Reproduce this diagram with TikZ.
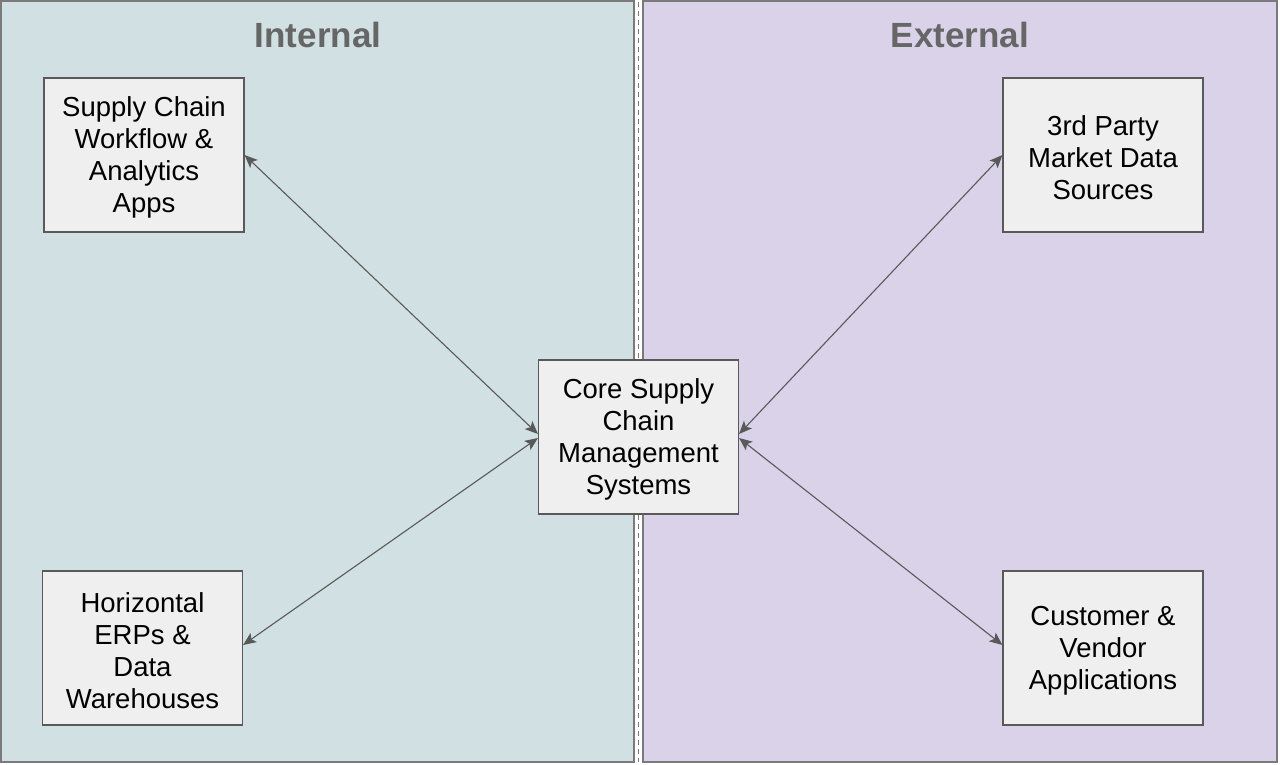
\documentclass[tikz,border=0pt]{standalone}
\usepackage{fontspec}
\setmainfont{Liberation Sans}
\usetikzlibrary{arrows.meta}
\definecolor{intfill}{HTML}{D0E0E3}
\definecolor{extfill}{HTML}{D9D2E9}
\definecolor{boxfill}{HTML}{EFEFEF}
\definecolor{edge}{HTML}{595959}
\definecolor{titlegray}{HTML}{666666}
\newcommand{\toppad}{\rule{0pt}{25pt}}
\tikzset{
  panel/.style={draw=edge!80, line width=1.3pt},
  sysbox/.style={draw=edge, fill=boxfill, line width=1.1pt, minimum width=200pt, minimum height=154pt, inner sep=0pt, align=center, font=\fontsize{27.5}{32}\selectfont},
  paneltitle/.style={font=\fontsize{35}{40}\selectfont\bfseries, text=titlegray},
  link/.style={draw=edge, line width=1.1pt, {Stealth[length=13pt,width=11pt,inset=3pt]}-{Stealth[length=13pt,width=11pt,inset=3pt]}},
}
\begin{document}
\begin{tikzpicture}[x=1pt,y=-1pt]
\useasboundingbox (0,0) rectangle (1280,764);
\fill[white] (0,0) rectangle (1280,764);
\path[panel, fill=intfill] (1,1) rectangle (634,762);
\path[panel, fill=extfill] (643,1) rectangle (1277,762);
\draw[edge!80, line width=1.3pt, dash pattern=on 5pt off 4pt] (638.5,2) -- (638.5,762);
\node[paneltitle] (tint) at (318,35) {Internal};
\node[paneltitle] (text) at (960,35) {External};
\node[sysbox] (sc) at (144,155) {\toppad Supply Chain\\Workflow \&\\Analytics\\Apps};
\node[sysbox] (erp) at (142.5,648) {\toppad Horizontal\\ERPs \&\\Data\\Warehouses};
\node[sysbox] (core) at (638.5,437) {\toppad Core Supply\\Chain\\Management\\Systems};
\node[sysbox] (mkt) at (1103,155) {\toppad 3rd Party\\Market Data\\Sources};
\node[sysbox] (cust) at (1103,648) {\toppad Customer \&\\Vendor\\Applications};
\draw[link] (sc.east) -- ([yshift=3pt]core.west);
\draw[link] ([yshift=3pt]erp.east) -- ([yshift=-1pt]core.west);
\draw[link] ([yshift=3pt]core.east) -- (mkt.west);
\draw[link] ([yshift=-1pt]core.east) -- ([yshift=3pt]cust.west);
\end{tikzpicture}
\end{document}
